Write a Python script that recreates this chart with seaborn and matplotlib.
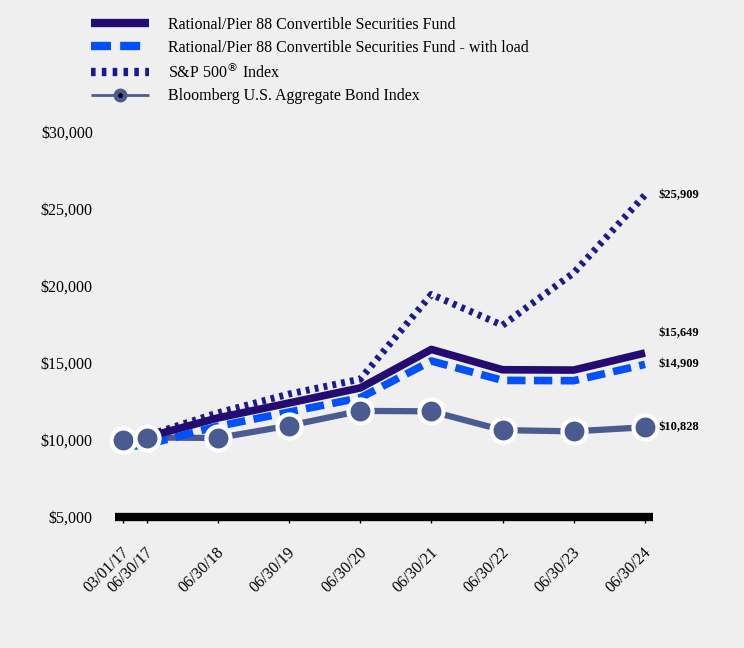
import matplotlib
matplotlib.use("Agg")
import matplotlib.pyplot as plt
import matplotlib.transforms as mtransforms
import seaborn as sns
import pandas as pd
from matplotlib.lines import Line2D

dates = ["2017-03-01", "2017-06-30", "2018-06-30", "2019-06-30", "2020-06-30",
         "2021-06-30", "2022-06-30", "2023-06-30", "2024-06-30"]
tick_labels = ["03/01/17", "06/30/17", "06/30/18", "06/30/19", "06/30/20",
               "06/30/21", "06/30/22", "06/30/23", "06/30/24"]
fund = [10000, 10180, 11430, 12400, 13380, 15880, 14560, 14540, 15649]
fund_load = [9525, 9700, 10890, 11810, 12740, 15130, 13870, 13850, 14909]
sp500 = [10000, 10280, 11760, 12980, 13950, 19450, 17450, 20850, 25909]
bond = [10000, 10160, 10130, 10930, 11890, 11860, 10640, 10560, 10828]

names = ["Rational/Pier 88 Convertible Securities Fund",
         "Rational/Pier 88 Convertible Securities Fund - with load",
         "S&P 500$^{®}$ Index",
         "Bloomberg U.S. Aggregate Bond Index"]
end_labels = ["$15,649", "$14,909", "$25,909", "$10,828"]

df = pd.DataFrame({"date": pd.to_datetime(dates), "fund": fund, "load": fund_load,
                   "sp": sp500, "bond": bond})

sns.set_theme(style="white")
plt.rcParams["font.family"] = ["Liberation Serif", "DejaVu Serif"]
plt.rcParams["text.color"] = "black"
plt.rcParams["xtick.color"] = "black"
plt.rcParams["ytick.color"] = "black"
plt.rcParams["lines.solid_capstyle"] = "butt"
plt.rcParams["lines.dash_capstyle"] = "butt"
bg = "#efefef"
fig = plt.figure(figsize=(7.44, 6.48), dpi=100, facecolor=bg)
ax = fig.add_axes([0.1546, 0.2022, 0.7231, 0.5941])
ax.set_facecolor(bg)

c_fund = "#230b72"
c_load = "#0050ff"
c_sp = "#1c1a8e"
c_bond = "#4a5b91"
ls_sp = (0, (0.55, 0.75))
ls_load = (0, (2.4, 1.1))

sns.lineplot(data=df, x="date", y="bond", ax=ax, color=c_bond, lw=4.5, zorder=2,
             legend=False)
sns.lineplot(data=df, x="date", y="sp", ax=ax, color=c_sp, lw=5, zorder=3,
             legend=False)
ax.lines[-1].set_linestyle(ls_sp)
sns.lineplot(data=df, x="date", y="load", ax=ax, color=c_load, lw=5.5, zorder=4,
             legend=False)
ax.lines[-1].set_linestyle(ls_load)
sns.lineplot(data=df, x="date", y="fund", ax=ax, color=c_fund, lw=5.5, zorder=5,
             legend=False)
sns.scatterplot(data=df, x="date", y="bond", ax=ax, color=c_bond, s=300,
                edgecolor="white", linewidth=3, zorder=6, legend=False)
for coll in ax.collections:
    coll.set_clip_on(False)
for ln in ax.lines:
    ln.set_solid_capstyle("butt")
    ln.set_dash_capstyle("butt")

ax.set_ylim(5000, 30000)
ax.set_yticks(range(5000, 30001, 5000))
ax.set_yticklabels([f"${v:,}" for v in range(5000, 30001, 5000)], fontsize=11.5)
ax.set_xlim(pd.Timestamp("2017-01-19"), pd.Timestamp("2024-08-10"))
ax.set_xticks(df["date"])
ax.set_xticklabels(tick_labels, rotation=45, ha="right", va="center",
                   rotation_mode="anchor", fontsize=11.5)
ax.set_xlabel("")
ax.set_ylabel("")
for s in ["top", "right", "left"]:
    ax.spines[s].set_visible(False)
ax.spines["bottom"].set_linewidth(6)
ax.spines["bottom"].set_color("black")
ax.spines["bottom"].set_capstyle("butt")
ax.tick_params(axis="x", length=4, width=1, color="black", pad=20, bottom=True)
ax.tick_params(axis="y", length=0, pad=16)
shift = mtransforms.ScaledTranslation(4 / 100, 0, fig.dpi_scale_trans)
for lab in ax.get_xticklabels():
    lab.set_transform(lab.get_transform() + shift)

last = df["date"].iloc[-1]
offs = [14, 0, 0, 0]
vals = [fund[-1], fund_load[-1], sp500[-1], bond[-1]]
for v, t, o in zip(vals, end_labels, offs):
    ax.annotate(t, (last, v), xytext=(10, o), textcoords="offset points",
                fontsize=9, fontweight="bold", va="center", ha="left", annotation_clip=False)

handles = [
    Line2D([], [], color=c_fund, lw=6, solid_capstyle="butt"),
    Line2D([], [], color=c_load, lw=6, linestyle=(0, (2.4, 1.1)), dash_capstyle="butt"),
    Line2D([], [], color=c_sp, lw=6, linestyle=(0, (0.55, 0.75)), dash_capstyle="butt"),
    (Line2D([], [], color=c_bond, lw=2, marker="o", markersize=9,
            markerfacecolor=c_bond, markeredgecolor=c_bond),
     Line2D([], [], lw=0, marker="o", markersize=2.5, color="black")),
]
leg = fig.legend(handles, names, loc="upper left", bbox_to_anchor=(0.103, 0.996),
                 frameon=False, fontsize=11.5, handlelength=3.6, handletextpad=1.2,
                 labelspacing=0.42)
fig.savefig("out.png", dpi=100, facecolor=bg)
